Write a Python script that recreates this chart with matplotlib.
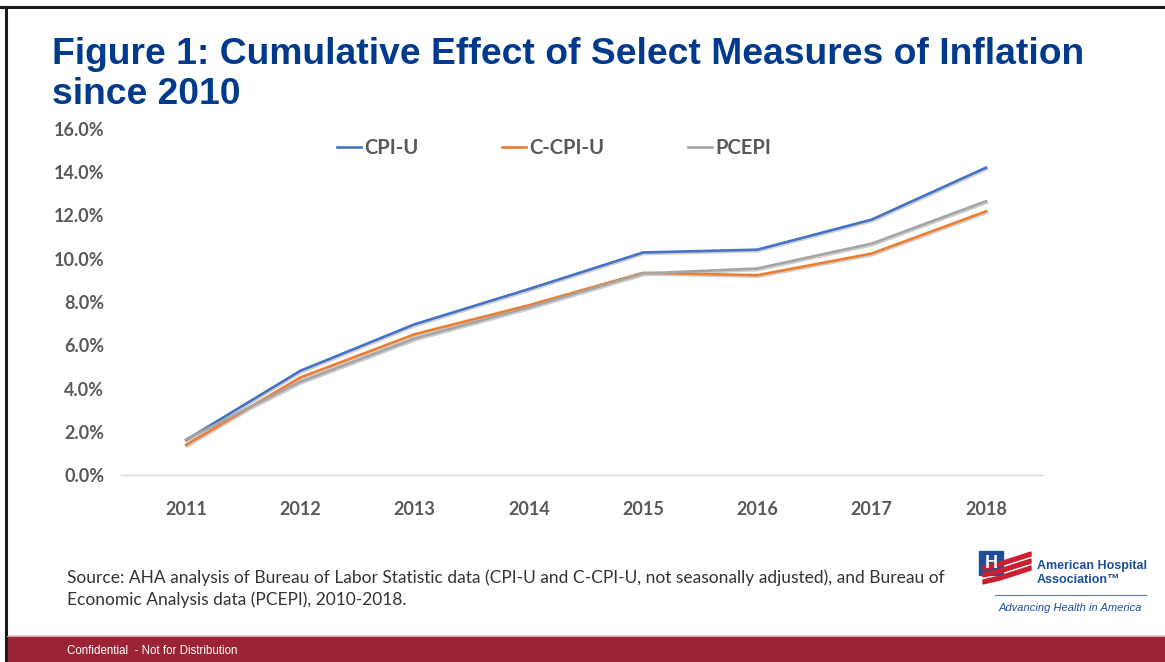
import matplotlib.pyplot as plt
import matplotlib.transforms as mtransforms
from matplotlib.patches import Rectangle, Polygon
from matplotlib.lines import Line2D

W, H = 1165, 662

years = ['2011', '2012', '2013', '2014', '2015', '2016', '2017', '2018']
cpi_u = [1.62, 4.82, 6.97, 8.60, 10.29, 10.42, 11.81, 14.21]
c_cpi_u = [1.39, 4.51, 6.51, 7.85, 9.35, 9.24, 10.24, 12.19]
pcepi = [1.65, 4.31, 6.31, 7.75, 9.32, 9.55, 10.70, 12.66]

series = [('CPI-U', cpi_u, '#4472C4'),
          ('C-CPI-U', c_cpi_u, '#ED7D31'),
          ('PCEPI', pcepi, '#A5A5A5')]

tick_font = 'Lato'
gray = '#595959'


def fx(px):
    return px / W


def fy(py):
    return 1 - py / H


fig = plt.figure(figsize=(W / 100, H / 100), dpi=100)
fig.patch.set_facecolor('white')

# slide frame and bottom band
fig.add_artist(Line2D([fx(0), fx(W)], [fy(7), fy(7)], color='#1a1a1a', lw=2.2))
fig.add_artist(Line2D([fx(5.5), fx(5.5)], [fy(7), fy(H)], color='#1a1a1a', lw=2.2))
fig.add_artist(Rectangle((fx(7), 0), 1, fy(636), color='#9B2335', zorder=1))
fig.add_artist(Line2D([fx(7), fx(W)], [fy(635.5), fy(635.5)], color='#d9a3ab', lw=0.8))
fig.text(fx(67), fy(651), 'Confidential  - Not for Distribution', color='white',
         fontsize=8.3, family='Liberation Sans', va='center', ha='left')

# title
fig.text(fx(52), fy(54), 'Figure 1: Cumulative Effect of Select Measures of Inflation',
         color='#003A8C', fontsize=26.8, fontweight='bold', family='Liberation Sans',
         va='center', ha='left')
fig.text(fx(52), fy(94), 'since 2010', color='#003A8C', fontsize=26.8,
         fontweight='bold', family='Liberation Sans', va='center', ha='left')

# chart
ax = fig.add_axes([fx(121), fy(475), fx(1043) - fx(121), fy(129) - fy(475)])
x = list(range(len(years)))
shadow = ax.transData + mtransforms.ScaledTranslation(1 / 100, -1.5 / 100, fig.dpi_scale_trans)
for name, vals, col in series:
    ax.plot(x, vals, color='#d0d0d0', lw=2.0, zorder=2, transform=shadow)
for name, vals, col in series:
    ax.plot(x, vals, color=col, lw=1.9, label=name, zorder=3)

ax.set_xlim(-0.57, 7.5)
ax.set_ylim(0, 16)
ax.set_yticks([0, 2, 4, 6, 8, 10, 12, 14, 16])
ax.set_yticklabels(['%.1f%%' % v for v in ax.get_yticks()])
ax.set_xticks(x)
ax.set_xticklabels(years)
for s in ['top', 'right', 'left']:
    ax.spines[s].set_visible(False)
ax.spines['bottom'].set_color('#d9d9d9')
ax.spines['bottom'].set_linewidth(1.0)
ax.tick_params(axis='both', length=0, colors=gray)
ax.tick_params(axis='y', pad=12)
ax.tick_params(axis='x', pad=19)
for lab in ax.get_xticklabels() + ax.get_yticklabels():
    lab.set_fontfamily(tick_font)
    lab.set_fontweight('bold')
    lab.set_fontsize(13)
    lab.set_color(gray)

leg = ax.legend(loc='center', bbox_to_anchor=((fx(554) - fx(121)) / (fx(1043) - fx(121)),
                (fy(148) - fy(475)) / (fy(129) - fy(475))),
                ncol=3, frameon=False,
                handlelength=1.2, handletextpad=0.15, columnspacing=4.15,
                prop={'family': tick_font, 'weight': 'bold', 'size': 14.5})
for t in leg.get_texts():
    t.set_color(gray)

# source note
fig.text(fx(67), fy(578), 'Source: AHA analysis of Bureau of Labor Statistic data (CPI-U and C-CPI-U, '
         'not seasonally adjusted), and Bureau of', color='#333333', fontsize=12.5,
         family='Lato', va='center', ha='left')
fig.text(fx(67), fy(600), 'Economic Analysis data (PCEPI), 2010-2018.', color='#333333',
         fontsize=12.5, family='Lato', va='center', ha='left')

# AHA logo (simplified)
blue = '#1F4E9A'
red = '#C8202F'
fig.add_artist(Rectangle((fx(979), fy(575)), fx(24), fy(551) - fy(575), color=blue))
fig.text(fx(991), fy(563), 'H', color='white', fontsize=13, fontweight='bold',
         family='Liberation Sans', ha='center', va='center')
for i in range(3):
    off = i * 7
    pts = [(983, 566 + off), (1000, 562 + off), (1031, 552 + off),
           (1031, 556 + off), (1000, 566 + off), (983, 570 + off)]
    fig.add_artist(Polygon([(fx(a), fy(b)) for a, b in pts], color=red))
fig.text(fx(1037), fy(566), 'American Hospital', color=blue, fontsize=9,
         fontweight='bold', family='Liberation Sans', ha='left', va='center')
fig.text(fx(1037), fy(580), 'Association\u2122', color=blue, fontsize=9,
         fontweight='bold', family='Liberation Sans', ha='left', va='center')
fig.add_artist(Line2D([fx(995), fx(1146)], [fy(595), fy(595)], color='#5b7cb8', lw=0.8))
fig.text(fx(1070), fy(608), 'Advancing Health in America', color=blue, fontsize=8,
         style='italic', family='Liberation Sans', ha='center', va='center')

fig.savefig('out.png', dpi=100, facecolor='white')
